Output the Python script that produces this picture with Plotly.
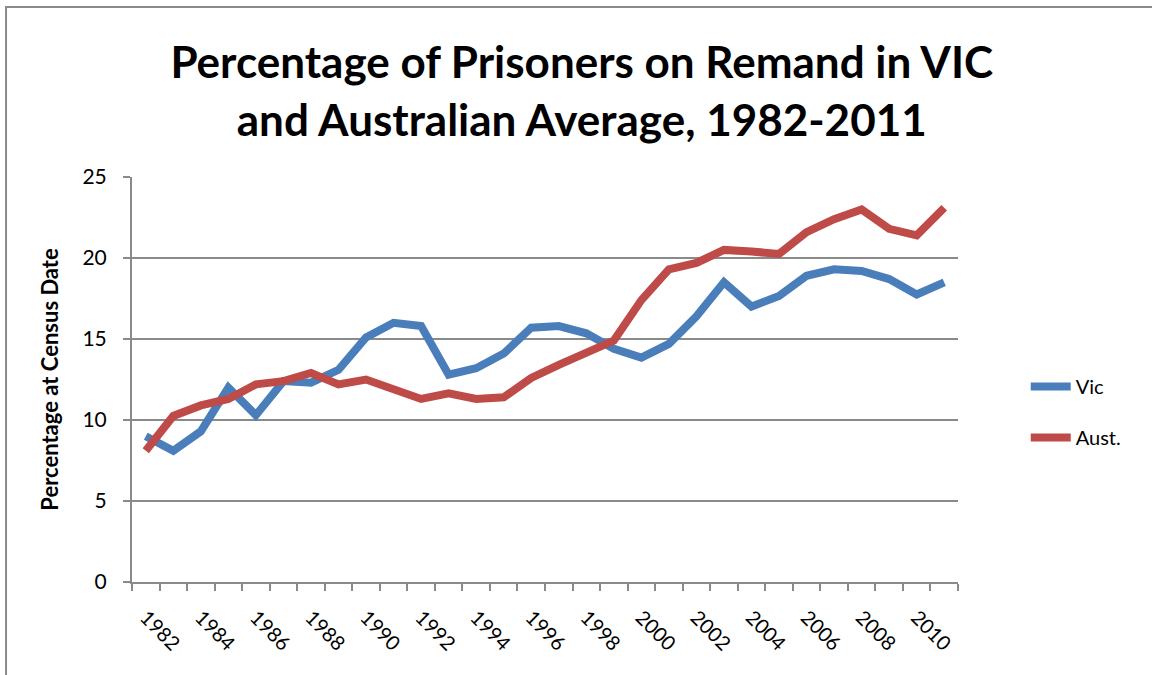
import plotly.graph_objects as go

# ---------------------------
# DATOS
# ---------------------------

years = list(range(1982, 2012))

vic = [9.0, 8.1, 9.3, 12.0, 10.3, 12.4, 12.3, 13.1, 15.1, 16.0,
       15.8, 12.8, 13.2, 14.1, 15.7, 15.8, 15.35, 14.4, 13.85, 14.7,
       16.4, 18.5, 17.0, 17.65, 18.9, 19.3, 19.2, 18.7, 17.75, 18.5]

aust = [8.1, 10.25, 10.9, 11.3, 12.2, 12.4, 12.9, 12.2, 12.5, 11.9,
        11.3, 11.65, 11.3, 11.4, 12.6, 13.4, 14.1, 14.9, 17.4, 19.3,
        19.7, 20.5, 20.4, 20.25, 21.6, 22.4, 23.0, 21.8, 21.4, 23.1]

year_labels = [str(y) for y in years if y % 2 == 0]
label_years = [y for y in years if y % 2 == 0]
tick_edges = [y - 0.5 for y in years] + [years[-1] + 0.5]

title_text = "Percentage of Prisoners on Remand in VIC<br>and Australian Average, 1982-2011"

# ---------------------------
# FIGURA
# ---------------------------

fig = go.Figure()

fig.add_trace(go.Scatter(
    x=years, y=vic, mode="lines", name="Vic", legendgroup="vic",
    line=dict(color="#4A7EBB", width=8)
))
fig.add_trace(go.Scatter(
    x=years, y=aust, mode="lines", name="Aust.", legendgroup="aust",
    line=dict(color="#BE4B48", width=8)
))

grey = "#8a8a8a"

fig.update_layout(
    width=1152, height=675,
    margin=dict(l=132, r=194, t=177, b=93),
    paper_bgcolor="white", plot_bgcolor="white",
    font=dict(family="Lato", color="black", size=20),
    title=dict(text=title_text, x=0.505, xanchor="center", y=0.884, yanchor="middle",
               font=dict(family="Lato", size=44, color="black", weight="bold")),
    legend=dict(x=1.082, xanchor="left", y=0.42, yanchor="middle",
                traceorder="grouped", tracegroupgap=22,
                font=dict(size=20), itemwidth=40),
    showlegend=True,
)

fig.update_xaxes(
    range=[1981.5, 2011.5],
    tickmode="array", tickvals=label_years, ticktext=year_labels,
    tickangle=45, ticks="", ticklabelstandoff=14,
    tickfont=dict(size=20),
    showgrid=False, zeroline=False,
    showline=True, linecolor=grey, linewidth=2,
    minor=dict(tickmode="array", tickvals=tick_edges, ticks="outside",
               ticklen=7, tickcolor=grey, tickwidth=1.5, showgrid=False),
)

fig.update_yaxes(
    range=[0, 25], dtick=5, tick0=0,
    ticks="outside", ticklen=7, tickcolor=grey, tickwidth=1.5,
    ticklabelstandoff=12, tickfont=dict(size=21),
    showgrid=True, gridcolor=grey, gridwidth=1.5,
    zeroline=False, showline=True, linecolor=grey, linewidth=2,
    title=dict(text="<b>Percentage at Census Date</b>", font=dict(size=22), standoff=18),
)

# borde del area del grafico
fig.add_shape(type="rect", xref="paper", yref="paper",
              x0=-0.1525, x1=1.26, y0=-0.25, y1=1.42,
              line=dict(color=grey, width=2), layer="below")

# quitar el margen por defecto del body
fig.write_html("out.html", config={"displayModeBar": False},
               post_script="document.body.style.margin='0px';")
